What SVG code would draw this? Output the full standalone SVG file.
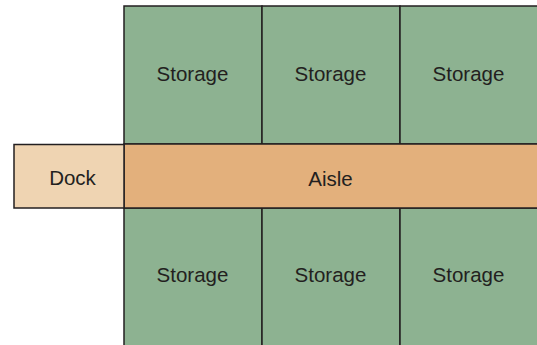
<svg xmlns="http://www.w3.org/2000/svg" width="537" height="345" viewBox="0 0 537 345">
<style>
.s{fill:#8db291;stroke:#231f20;stroke-width:1.5}
.t{font-family:"Liberation Sans",Arial,sans-serif;font-size:20.5px;fill:#231f20;text-anchor:middle}
</style>
<rect width="537" height="345" fill="#fff"/>
<g id="storage-top-1"><rect class="s" x="124" y="6" width="138" height="138"/><text class="t" x="192.5" y="81">Storage</text></g>
<g id="storage-top-2"><rect class="s" x="262" y="6" width="138" height="138"/><text class="t" x="330.5" y="81">Storage</text></g>
<g id="storage-top-3"><rect class="s" x="400" y="6" width="140" height="138"/><text class="t" x="468.5" y="81">Storage</text></g>
<g id="storage-bottom-1"><rect class="s" x="124" y="208" width="138" height="140"/><text class="t" x="192.5" y="282">Storage</text></g>
<g id="storage-bottom-2"><rect class="s" x="262" y="208" width="138" height="140"/><text class="t" x="330.5" y="282">Storage</text></g>
<g id="storage-bottom-3"><rect class="s" x="400" y="208" width="140" height="140"/><text class="t" x="468.5" y="282">Storage</text></g>
<g id="aisle"><rect x="124" y="144" width="416" height="64" fill="#e3b07c" stroke="#231f20" stroke-width="1.5"/><text class="t" x="330.5" y="186">Aisle</text></g>
<g id="dock"><rect x="14" y="144.5" width="110" height="63.5" fill="#efd4b2" stroke="#231f20" stroke-width="1.5"/><text class="t" x="72.5" y="185">Dock</text></g>
<g id="connectors"/>
</svg>
